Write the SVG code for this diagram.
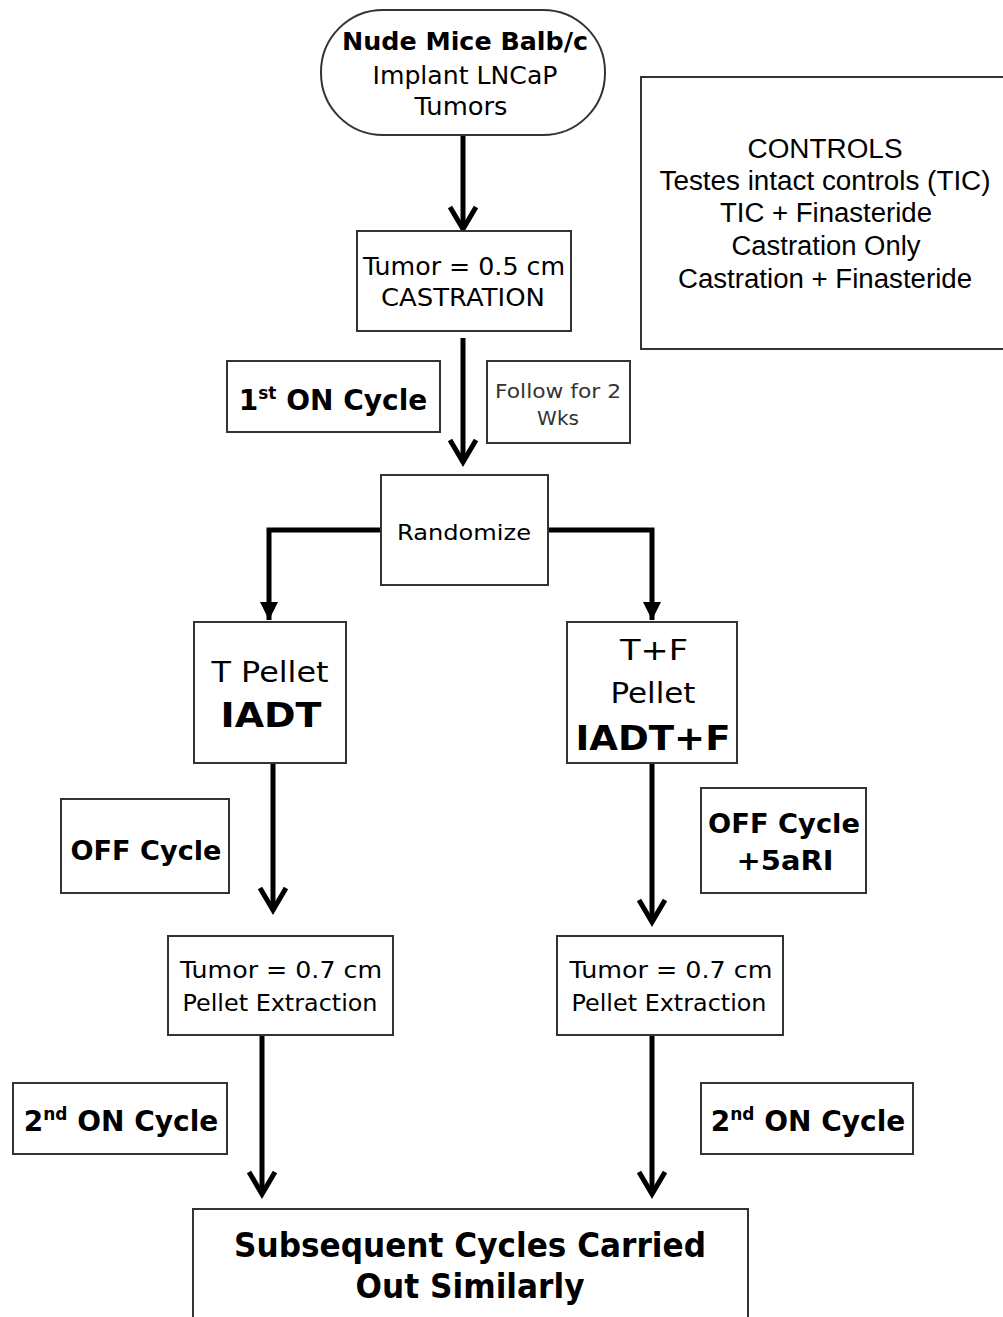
<svg xmlns="http://www.w3.org/2000/svg" width="1003" height="1317" viewBox="0 0 1003 1317">
<style>
.box{fill:#fff;stroke:#333;stroke-width:2}
.t{font-family:"DejaVu Sans",Verdana,sans-serif;fill:#000;text-anchor:middle}
.b{font-weight:bold}
.a{font-family:"Liberation Sans",Arial,sans-serif;fill:#000;text-anchor:middle;font-size:27px}
.c{fill:none;stroke:#000;stroke-width:5}
</style>
<defs>
<marker id="chev" markerUnits="userSpaceOnUse" markerWidth="40" markerHeight="40" viewBox="-30 -20 40 40" refX="0" refY="0" orient="auto">
<path d="M-22,-13 L0,0 L-22,13" fill="none" stroke="#000" stroke-width="5" stroke-linejoin="miter"/>
</marker>
<marker id="tri" markerUnits="userSpaceOnUse" markerWidth="30" markerHeight="30" viewBox="-20 -15 30 30" refX="0" refY="0" orient="auto">
<path d="M-18,-9 L0,0 L-18,9 Z" fill="#000"/>
</marker>
</defs>
<rect width="1003" height="1317" fill="#fff"/>

<g id="connectors">
<line class="c" x1="463" y1="136" x2="463" y2="229" marker-end="url(#chev)"/>
<line class="c" x1="463" y1="338" x2="463" y2="462" marker-end="url(#chev)"/>
<polyline class="c" points="381,530 269,530 269,620" marker-end="url(#tri)"/>
<polyline class="c" points="548,530 652,530 652,620" marker-end="url(#tri)"/>
<line class="c" x1="273" y1="764" x2="273" y2="910" marker-end="url(#chev)"/>
<line class="c" x1="652" y1="764" x2="652" y2="922" marker-end="url(#chev)"/>
<line class="c" x1="262" y1="1036" x2="262" y2="1194" marker-end="url(#chev)"/>
<line class="c" x1="652" y1="1036" x2="652" y2="1194" marker-end="url(#chev)"/>
</g>

<g id="start">
<rect class="box" x="321" y="10" width="284" height="125" rx="62" ry="62"/>
<text class="t b" x="465" y="50" font-size="24" textLength="246" lengthAdjust="spacingAndGlyphs">Nude Mice Balb/c</text>
<text class="t" x="465" y="84" font-size="24" textLength="185" lengthAdjust="spacingAndGlyphs">Implant LNCaP</text>
<text class="t" x="461" y="115" font-size="24" textLength="93" lengthAdjust="spacingAndGlyphs">Tumors</text>
</g>

<g id="controls">
<rect class="box" x="641" y="77" width="370" height="272"/>
<text class="a" x="825" y="158" textLength="155" lengthAdjust="spacingAndGlyphs">CONTROLS</text>
<text class="a" x="825" y="190" textLength="331" lengthAdjust="spacingAndGlyphs">Testes intact controls (TIC)</text>
<text class="a" x="826" y="222" textLength="212" lengthAdjust="spacingAndGlyphs">TIC + Finasteride</text>
<text class="a" x="826" y="255" textLength="189" lengthAdjust="spacingAndGlyphs">Castration Only</text>
<text class="a" x="825" y="288" textLength="294" lengthAdjust="spacingAndGlyphs">Castration + Finasteride</text>
</g>

<g id="castration">
<rect class="box" x="357" y="231" width="214" height="100"/>
<text class="t" x="464" y="275" font-size="24" textLength="202" lengthAdjust="spacingAndGlyphs">Tumor = 0.5 cm</text>
<text class="t" x="463" y="306" font-size="24" textLength="164" lengthAdjust="spacingAndGlyphs">CASTRATION</text>
</g>

<g id="on1">
<rect class="box" x="227" y="361" width="213" height="71"/>
<text class="t b" x="333" y="410" font-size="28"><tspan>1</tspan><tspan font-size="17" dy="-11">st</tspan><tspan dy="11"> ON Cycle</tspan></text>
</g>

<g id="follow">
<rect class="box" x="487" y="361" width="143" height="82"/>
<text class="t" x="558" y="398" font-size="20" style="fill:#333" textLength="126" lengthAdjust="spacingAndGlyphs">Follow for 2</text>
<text class="t" x="558" y="425" font-size="20" style="fill:#333">Wks</text>
</g>

<g id="randomize">
<rect class="box" x="381" y="475" width="167" height="110"/>
<text class="t" x="464" y="540" font-size="22" textLength="134" lengthAdjust="spacingAndGlyphs">Randomize</text>
</g>

<g id="tpellet">
<rect class="box" x="194" y="622" width="152" height="141"/>
<text class="t" x="270" y="682" font-size="28" textLength="117" lengthAdjust="spacingAndGlyphs">T Pellet</text>
<text class="t b" x="271" y="727" font-size="34" textLength="101" lengthAdjust="spacingAndGlyphs">IADT</text>
</g>

<g id="tfpellet">
<rect class="box" x="567" y="622" width="170" height="141"/>
<text class="t" x="654" y="660" font-size="28" textLength="68" lengthAdjust="spacingAndGlyphs">T+F</text>
<text class="t" x="653" y="703" font-size="28" textLength="85" lengthAdjust="spacingAndGlyphs">Pellet</text>
<text class="t b" x="653" y="750" font-size="34" textLength="155" lengthAdjust="spacingAndGlyphs">IADT+F</text>
</g>

<g id="off1">
<rect class="box" x="61" y="799" width="168" height="94"/>
<text class="t b" x="146" y="860" font-size="27" textLength="151" lengthAdjust="spacingAndGlyphs">OFF Cycle</text>
</g>

<g id="off2">
<rect class="box" x="701" y="788" width="165" height="105"/>
<text class="t b" x="784" y="833" font-size="27" textLength="152" lengthAdjust="spacingAndGlyphs">OFF Cycle</text>
<text class="t b" x="785" y="870" font-size="27" textLength="97" lengthAdjust="spacingAndGlyphs">+5aRI</text>
</g>

<g id="tumor07a">
<rect class="box" x="168" y="936" width="225" height="99"/>
<text class="t" x="281" y="978" font-size="23" textLength="202" lengthAdjust="spacingAndGlyphs">Tumor = 0.7 cm</text>
<text class="t" x="280" y="1011" font-size="23" textLength="195" lengthAdjust="spacingAndGlyphs">Pellet Extraction</text>
</g>

<g id="tumor07b">
<rect class="box" x="557" y="936" width="226" height="99"/>
<text class="t" x="671" y="978" font-size="23" textLength="203" lengthAdjust="spacingAndGlyphs">Tumor = 0.7 cm</text>
<text class="t" x="669" y="1011" font-size="23" textLength="195" lengthAdjust="spacingAndGlyphs">Pellet Extraction</text>
</g>

<g id="on2a">
<rect class="box" x="13" y="1083" width="214" height="71"/>
<text class="t b" x="121" y="1131" font-size="28"><tspan>2</tspan><tspan font-size="17" dy="-11">nd</tspan><tspan dy="11"> ON Cycle</tspan></text>
</g>

<g id="on2b">
<rect class="box" x="701" y="1083" width="212" height="71"/>
<text class="t b" x="808" y="1131" font-size="28"><tspan>2</tspan><tspan font-size="17" dy="-11">nd</tspan><tspan dy="11"> ON Cycle</tspan></text>
</g>

<g id="subsequent">
<rect class="box" x="193" y="1209" width="555" height="120"/>
<text class="t b" x="470" y="1257" font-size="34" textLength="472" lengthAdjust="spacingAndGlyphs">Subsequent Cycles Carried</text>
<text class="t b" x="470" y="1298" font-size="34" textLength="229" lengthAdjust="spacingAndGlyphs">Out Similarly</text>
</g>
</svg>
